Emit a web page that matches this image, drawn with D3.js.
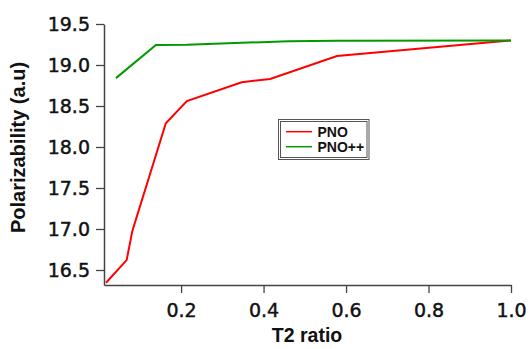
<!DOCTYPE html>
<html>
<head>
<meta charset="utf-8">
<script src="https://cdn.jsdelivr.net/npm/d3@7"></script>
<style>
  html, body { margin: 0; padding: 0; background: #fff; }
  svg { display: block; }
</style>
</head>
<body>
<svg id="chart" width="531" height="349"></svg>
<script>
// ---- data ----
const pnoX   = [0.018, 0.068, 0.082, 0.163, 0.214, 0.347, 0.416, 0.578, 1.0];
const pnoY   = [16.345, 16.62, 16.98, 18.29, 18.56, 18.79, 18.83, 19.11, 19.30];
const pnoppX = [0.042, 0.139, 0.214, 0.347, 0.46, 0.578, 1.0];
const pnoppY = [18.84, 19.244, 19.246, 19.27, 19.29, 19.297, 19.30];
const xTicks = [0.2, 0.4, 0.6, 0.8, 1.0];
const yTicks = [16.5, 17.0, 17.5, 18.0, 18.5, 19.0, 19.5];
const seriesNames = ["PNO", "PNO++"];
const seriesColors = ["#ff0000", "#009a00"];

(function () {
const svg = d3.select("#chart");
const mLeft = 104, mRight = 511, mTop = 24, mBottom = 285;

const x = d3.scaleLinear().domain([0.0131, 1.0]).range([mLeft, mRight]);
const y = d3.scaleLinear().domain([16.317, 19.5]).range([mBottom, mTop]);

const axisColor = "#444";
const tickFont = "'DejaVu Sans', sans-serif";

// x axis
const gx = svg.append("g").attr("transform", `translate(0,${mBottom})`)
  .call(d3.axisBottom(x).tickValues(xTicks).tickFormat(d3.format(".1f"))
        .tickSize(8).tickSizeOuter(0).tickPadding(11));
gx.select(".domain").attr("stroke", axisColor).attr("stroke-width", 1.5);
gx.selectAll(".tick line").attr("stroke", axisColor).attr("stroke-width", 1.3);
gx.selectAll(".tick text").attr("fill", "#111").attr("stroke", "#111").attr("stroke-width", 0.45)
  .style("font-family", tickFont).style("font-size", "19px");

// y axis
const gy = svg.append("g").attr("transform", `translate(${mLeft},0)`)
  .call(d3.axisLeft(y).tickValues(yTicks).tickFormat(d3.format(".1f"))
        .tickSize(8).tickSizeOuter(0).tickPadding(6));
gy.select(".domain").attr("stroke", axisColor).attr("stroke-width", 1.5);
gy.selectAll(".tick line").attr("stroke", axisColor).attr("stroke-width", 1.3);
gy.selectAll(".tick text").attr("fill", "#111").attr("stroke", "#111").attr("stroke-width", 0.45)
  .style("font-family", tickFont).style("font-size", "19px");

// axis titles
svg.append("text")
  .attr("x", (mLeft + mRight) / 2 - 0.5).attr("y", 342)
  .attr("text-anchor", "middle")
  .style("font-family", "'Liberation Sans', Arial, sans-serif")
  .style("font-weight", "bold").style("font-size", "19.5px")
  .attr("fill", "#111")
  .text("T2 ratio");

svg.append("text")
  .attr("transform", "translate(25,147.5) rotate(-90)")
  .attr("text-anchor", "middle")
  .style("font-family", "'Liberation Sans', Arial, sans-serif")
  .style("font-weight", "bold").style("font-size", "20px")
  .attr("fill", "#111")
  .text("Polarizability (a.u)");

// lines
const line = d3.line().x(d => x(d[0])).y(d => y(d[1]));
const series = [
  pnoX.map((v, i) => [v, pnoY[i]]),
  pnoppX.map((v, i) => [v, pnoppY[i]])
];
series.forEach((s, i) => {
  svg.append("path").datum(s)
    .attr("fill", "none")
    .attr("stroke", seriesColors[i])
    .attr("stroke-width", 2)
    .attr("stroke-linejoin", "miter")
    .attr("d", line);
});

// legend
const lg = svg.append("g");
lg.append("rect").attr("x", 278.5).attr("y", 119.5).attr("width", 90.5).attr("height", 40)
  .attr("fill", "#fff").attr("stroke", "#555").attr("stroke-width", 1);
lg.append("rect").attr("x", 280.5).attr("y", 121.5).attr("width", 86.5).attr("height", 36)
  .attr("fill", "none").attr("stroke", "#555").attr("stroke-width", 1);
seriesNames.forEach((name, i) => {
  const yy = 131.7 + i * 15;
  lg.append("line").attr("x1", 286).attr("x2", 312).attr("y1", yy).attr("y2", yy)
    .attr("stroke", seriesColors[i]).attr("stroke-width", 1.5);
  lg.append("text").attr("x", 317.5).attr("y", yy + 5)
    .style("font-family", "'Liberation Sans', Arial, sans-serif")
    .style("font-weight", "bold").style("font-size", "14px")
    .attr("fill", "#111")
    .text(name);
});
})();
</script>
</body>
</html>
